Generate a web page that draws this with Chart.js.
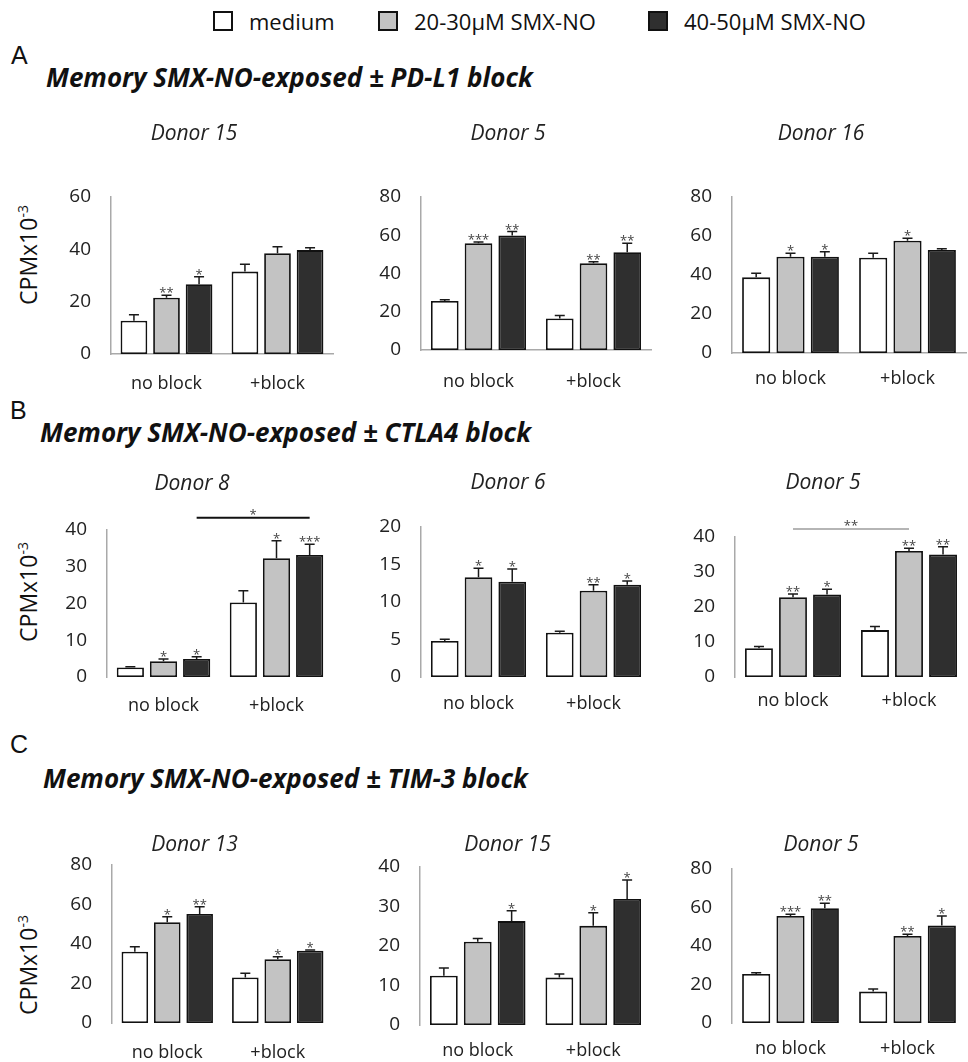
<!DOCTYPE html>
<html>
<head>
<meta charset="utf-8">
<title>Memory SMX-NO-exposed checkpoint block</title>
<script src="https://cdn.jsdelivr.net/npm/chart.js@4.4.1/dist/chart.umd.min.js"></script>
<style>
    body { margin: 0; width: 968px; height: 1062px; background: #fff; position: relative; overflow: hidden;
           font-family: 'Open Sans', sans-serif; color: #111; }
    .abs { position: absolute; white-space: nowrap; }
    .panel-letter { font-family: 'Liberation Sans', Arial, sans-serif; font-size: 25px; }
    .heading { font-size: 26px; font-weight: bold; font-style: italic; }
    .legend-item { font-size: 22px; display: flex; align-items: center; top: 6px; }
    .legend-box { width: 16px; height: 16px; border: 2px solid #111; margin-right: 16px; }
    .ytitle { font-size: 23px; transform: translate(-50%, -50%) rotate(-90deg); }
    .ytitle sup { font-size: 14px; }
    canvas { position: absolute; }
</style>
</head>
<body>

<div class="abs legend-item" style="left:213px"><span class="legend-box" style="background:#fff"></span>medium</div>
<div class="abs legend-item" style="left:378px"><span class="legend-box" style="background:#c3c3c3"></span>20-30μM SMX-NO</div>
<div class="abs legend-item" style="left:648px"><span class="legend-box" style="background:#2f2f2f"></span>40-50μM SMX-NO</div>

<div class="abs panel-letter" style="left:11px;top:41px">A</div>
<div class="abs heading" style="left:46px;top:59px">Memory SMX-NO-exposed ± PD-L1 block</div>
<div class="abs panel-letter" style="left:10px;top:396px">B</div>
<div class="abs heading" style="left:40px;top:414px">Memory SMX-NO-exposed ± CTLA4 block</div>
<div class="abs panel-letter" style="left:10px;top:730px">C</div>
<div class="abs heading" style="left:43px;top:760px">Memory SMX-NO-exposed ± TIM-3 block</div>

<div class="abs ytitle" style="left:28px;top:255px">CPMx10<sup>-3</sup></div>
<div class="abs ytitle" style="left:28px;top:592px">CPMx10<sup>-3</sup></div>
<div class="abs ytitle" style="left:28px;top:965px">CPMx10<sup>-3</sup></div>

<script>
// ---- data ----
const categories = ['no block', '+block'];
const seriesNames = ['medium', '20-30μM SMX-NO', '40-50μM SMX-NO'];

// A: PD-L1 block  (rows = medium, 20-30, 40-50; columns = no block, +block)
const pdl1Donor15 = [[12.7, 31.5], [21.5, 38.5], [26.7, 39.7]];
const pdl1Donor15Err = [[2.3, 2.8], [1.0, 2.5], [2.8, 0.9]];
const pdl1Donor15Stars = [['', ''], ['**', ''], ['*', '']];
const pdl1Donor15Ticks = [0, 20, 40, 60];

const pdl1Donor5 = [[25.6, 16.5], [55.8, 45.3], [59.9, 51.1]];
const pdl1Donor5Err = [[0.7, 1.5], [0.7, 0.9], [2.0, 4.7]];
const pdl1Donor5Stars = [['', ''], ['***', '**'], ['**', '**']];
const pdl1Donor5Ticks = [0, 20, 40, 60, 80];

const pdl1Donor16 = [[38.8, 48.9], [49.4, 57.6], [49.4, 52.8]];
const pdl1Donor16Err = [[2.1, 2.2], [1.7, 1.2], [2.5, 0.7]];
const pdl1Donor16Stars = [['', ''], ['*', '*'], ['*', '']];
const pdl1Donor16Ticks = [0, 20, 40, 60, 80];

// B: CTLA4 block
const ctla4Donor8 = [[2.6, 20.3], [4.3, 32.3], [4.9, 33.2]];
const ctla4Donor8Err = [[0.2, 3.2], [0.6, 4.8], [0.6, 2.9]];
const ctla4Donor8Stars = [['', ''], ['*', '*'], ['*', '***']];
const ctla4Donor8Ticks = [0, 10, 20, 30, 40];
const ctla4Donor8Bracket = [2, 43.3, '*'];   // series compared, level, label

const ctla4Donor6 = [[4.8, 5.9], [13.3, 11.5], [12.7, 12.3]];
const ctla4Donor6Err = [[0.25, 0.2], [1.2, 0.8], [1.7, 0.5]];
const ctla4Donor6Stars = [['', ''], ['*', '**'], ['*', '*']];
const ctla4Donor6Ticks = [0, 5, 10, 15, 20];

const ctla4Donor5 = [[8.2, 13.4], [22.8, 36.0], [23.6, 35.0]];
const ctla4Donor5Err = [[0.5, 1.0], [0.9, 0.8], [1.5, 2.2]];
const ctla4Donor5Stars = [['', ''], ['**', '**'], ['*', '**']];
const ctla4Donor5Ticks = [0, 10, 20, 30, 40];
const ctla4Donor5Bracket = [1, 42.3, '**'];

// C: TIM-3 block
const tim3Donor13 = [[36.1, 23.1], [51.0, 32.3], [55.2, 36.6]];
const tim3Donor13Err = [[2.5, 2.1], [2.8, 1.3], [3.7, 0.4]];
const tim3Donor13Stars = [['', ''], ['*', '*'], ['**', '*']];
const tim3Donor13Ticks = [0, 20, 40, 60, 80];

const tim3Donor15 = [[12.5, 12.0], [21.1, 25.1], [26.3, 31.9]];
const tim3Donor15Err = [[1.9, 0.9], [0.8, 3.3], [2.6, 4.8]];
const tim3Donor15Stars = [['', ''], ['', '*'], ['*', '*']];
const tim3Donor15Ticks = [0, 10, 20, 30, 40];

const tim3Donor5 = [[25.5, 16.3], [55.6, 45.2], [59.6, 50.6]];
const tim3Donor5Err = [[0.6, 1.4], [0.9, 0.9], [2.6, 5.0]];
const tim3Donor5Stars = [['', ''], ['***', '**'], ['**', '*']];
const tim3Donor5Ticks = [0, 20, 40, 60, 80];

// ---- look ----
Chart.defaults.font.family = "'Open Sans', sans-serif";
Chart.defaults.color = '#222';

const seriesFill = ['#ffffff', '#c3c3c3', '#2f2f2f'];
const axisGray = '#a9a9a9';

// Error bars, asterisks and comparison brackets
const annotatePlugin = {
    id: 'annotate',
    afterDatasetsDraw(chart, args, opts) {
        const ctx = chart.ctx;
        const y = chart.scales.y;
        ctx.save();
        chart.data.datasets.forEach((ds, di) => {
            const meta = chart.getDatasetMeta(di);
            meta.data.forEach((bar, i) => {
                const top = y.getPixelForValue(ds.data[i] + opts.errors[di][i]);
                ctx.strokeStyle = '#1a1a1a';
                ctx.lineWidth = 1.5;
                ctx.beginPath();
                ctx.moveTo(bar.x, bar.y);
                ctx.lineTo(bar.x, top);
                ctx.moveTo(bar.x - 5, top);
                ctx.lineTo(bar.x + 5, top);
                ctx.stroke();
                const star = opts.stars[di][i];
                if (star) {
                    ctx.fillStyle = '#444';
                    ctx.font = "13px 'Open Sans', sans-serif";
                    ctx.textAlign = 'center';
                    ctx.textBaseline = 'alphabetic';
                    ctx.fillText(star, bar.x, top + 2);
                }
            });
        });
        if (opts.bracket) {
            const [si, level, label] = opts.bracket;
            const bars = chart.getDatasetMeta(si).data;
            const py = y.getPixelForValue(level);
            ctx.strokeStyle = opts.bracketColor;
            ctx.lineWidth = 2;
            ctx.beginPath();
            ctx.moveTo(bars[0].x, py);
            ctx.lineTo(bars[1].x, py);
            ctx.stroke();
            ctx.fillStyle = '#444';
            ctx.font = "13px 'Open Sans', sans-serif";
            ctx.textAlign = 'center';
            ctx.textBaseline = 'alphabetic';
            ctx.fillText(label, (bars[0].x + bars[1].x) / 2, py + 1);
        }
        ctx.restore();
    }
};

function drawPanel(p) {
    const left = p.plotLeft - 56;
    const top = p.titleY - 12;
    const width = p.plotRight - left + 1;
    const height = Math.min(p.xLabelY + 13, 1062) - top;
    const canvas = document.createElement('canvas');
    canvas.style.left = left + 'px';
    canvas.style.top = top + 'px';
    canvas.width = width;
    canvas.height = height;
    document.body.appendChild(canvas);

    const ticks = p.ticks;
    new Chart(canvas.getContext('2d'), {
        type: 'bar',
        data: {
            labels: categories,
            datasets: seriesNames.map((name, k) => ({
                label: name,
                data: p.values[k],
                backgroundColor: seriesFill[k],
                borderColor: '#111',
                borderWidth: 1.8,
                borderSkipped: false,
                categoryPercentage: 0.88,
                barPercentage: 0.82
            }))
        },
        options: {
            responsive: false,
            animation: false,
            layout: { padding: { left: 0, right: 1, top: 0, bottom: 0 } },
            plugins: {
                legend: { display: false },
                tooltip: { enabled: false },
                title: {
                    display: true,
                    text: p.title,
                    color: '#222',
                    font: { size: 21, style: 'italic', weight: 'normal' },
                    padding: { top: 0, bottom: p.plotTop - top - 25.2 }
                },
                annotate: {
                    errors: p.errors,
                    stars: p.stars,
                    bracket: p.bracket,
                    bracketColor: p.bracketColor
                }
            },
            scales: {
                x: {
                    grid: { display: false, drawTicks: false },
                    border: { display: p.baseline, color: axisGray, width: 1.5 },
                    ticks: { font: { size: 18 }, color: '#222', padding: p.xLabelY - p.plotBottom - 10 },
                    afterFit: (s) => { s.height = top + height - p.plotBottom; }
                },
                y: {
                    min: ticks[0],
                    max: ticks[ticks.length - 1],
                    grid: { display: false, drawTicks: false },
                    border: { display: true, color: axisGray, width: 1.5 },
                    ticks: { stepSize: ticks[1] - ticks[0], font: { size: 19 }, color: '#222', padding: 20 },
                    afterFit: (s) => { s.width = p.plotLeft - left; }
                }
            }
        },
        plugins: [annotatePlugin]
    });
}

const panels = [
    { title: 'Donor 15', values: pdl1Donor15, errors: pdl1Donor15Err, stars: pdl1Donor15Stars, ticks: pdl1Donor15Ticks,
      plotLeft: 111, plotRight: 333, plotTop: 197, plotBottom: 354, titleY: 133, xLabelY: 383, baseline: true },
    { title: 'Donor 5', values: pdl1Donor5, errors: pdl1Donor5Err, stars: pdl1Donor5Stars, ticks: pdl1Donor5Ticks,
      plotLeft: 421, plotRight: 651, plotTop: 197, plotBottom: 350, titleY: 133, xLabelY: 381, baseline: true },
    { title: 'Donor 16', values: pdl1Donor16, errors: pdl1Donor16Err, stars: pdl1Donor16Stars, ticks: pdl1Donor16Ticks,
      plotLeft: 732, plotRight: 966, plotTop: 197, plotBottom: 353, titleY: 133, xLabelY: 378, baseline: true },

    { title: 'Donor 8', values: ctla4Donor8, errors: ctla4Donor8Err, stars: ctla4Donor8Stars, ticks: ctla4Donor8Ticks,
      bracket: ctla4Donor8Bracket, bracketColor: '#111',
      plotLeft: 107, plotRight: 333, plotTop: 530, plotBottom: 677, titleY: 483, xLabelY: 705, baseline: false },
    { title: 'Donor 6', values: ctla4Donor6, errors: ctla4Donor6Err, stars: ctla4Donor6Stars, ticks: ctla4Donor6Ticks,
      plotLeft: 421, plotRight: 651, plotTop: 527, plotBottom: 677, titleY: 482, xLabelY: 703, baseline: false },
    { title: 'Donor 5', values: ctla4Donor5, errors: ctla4Donor5Err, stars: ctla4Donor5Stars, ticks: ctla4Donor5Ticks,
      bracket: ctla4Donor5Bracket, bracketColor: '#b5b5b5',
      plotLeft: 735, plotRight: 967, plotTop: 537, plotBottom: 677, titleY: 482, xLabelY: 700, baseline: false },

    { title: 'Donor 13', values: tim3Donor13, errors: tim3Donor13Err, stars: tim3Donor13Stars, ticks: tim3Donor13Ticks,
      plotLeft: 112, plotRight: 333, plotTop: 865, plotBottom: 1023, titleY: 844, xLabelY: 1052, baseline: false },
    { title: 'Donor 15', values: tim3Donor15, errors: tim3Donor15Err, stars: tim3Donor15Stars, ticks: tim3Donor15Ticks,
      plotLeft: 420, plotRight: 651, plotTop: 867, plotBottom: 1025, titleY: 844, xLabelY: 1050, baseline: false },
    { title: 'Donor 5', values: tim3Donor5, errors: tim3Donor5Err, stars: tim3Donor5Stars, ticks: tim3Donor5Ticks,
      plotLeft: 732, plotRight: 966, plotTop: 869, plotBottom: 1023, titleY: 844, xLabelY: 1048, baseline: false }
];

panels.forEach(drawPanel);
</script>
</body>
</html>
